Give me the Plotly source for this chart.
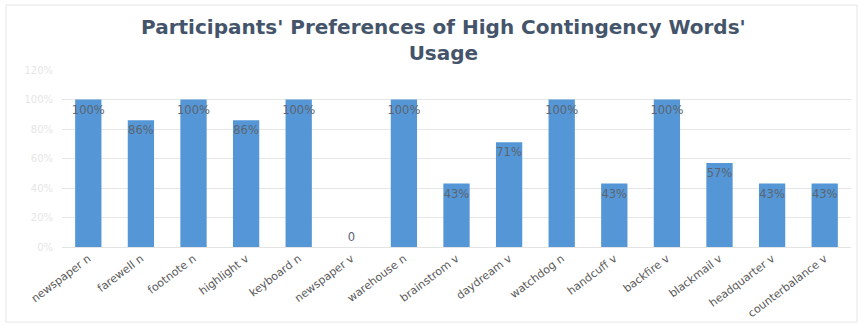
import plotly.graph_objects as go

categories = ["newspaper n", "farewell n", "footnote n", "highlight v", "keyboard n",
              "newspaper v", "warehouse n", "brainstrom v", "daydream v", "watchdog n",
              "handcuff v", "backfire v", "blackmail v", "headquarter v", "counterbalance v"]
values = [1.00, 0.86, 1.00, 0.86, 1.00, 0.0, 1.00, 0.43, 0.71, 1.00, 0.43, 1.00, 0.57, 0.43, 0.43]
labels = ["100%", "86%", "100%", "86%", "100%", "0", "100%", "43%", "71%", "100%",
          "43%", "100%", "57%", "43%", "43%"]
y_ticks = [0, 0.2, 0.4, 0.6, 0.8, 1.0, 1.2]
y_tick_text = ["0%", "20%", "40%", "60%", "80%", "100%", "120%"]

FONT = "DejaVu Sans, Verdana, sans-serif"
positions = ["outside" if v == 0 else "inside" for v in values]

fig = go.Figure(go.Bar(
    x=categories, y=values, text=labels, textposition=positions,
    insidetextanchor="end", textangle=0, constraintext="none",
    marker=dict(color="#5597d6", line=dict(width=0)),
    textfont=dict(family=FONT, size=11.5, color="#5b6470"),
    cliponaxis=False, hoverinfo="skip",
))

fig.update_layout(
    width=866, height=325,
    margin=dict(l=62, r=15, t=70, b=78, autoexpand=False),
    paper_bgcolor="white", plot_bgcolor="white",
    bargap=0.5,
    showlegend=False,
    title=dict(
        text="Participants' Preferences of High Contingency Words'<br>Usage",
        x=0.512, xanchor="center", yref="container", y=1 - 34 / 325, yanchor="middle",
        font=dict(family=FONT, size=20, color="#44546a", weight="bold"),
    ),
    font=dict(family=FONT),
    xaxis=dict(
        range=[-0.5, 14.5], automargin=False,
        tickangle=-37, tickfont=dict(size=11, color="#595959"),
        showgrid=False, showline=True, linecolor="#e4e4e4", linewidth=1, ticks="",
    ),
    yaxis=dict(
        range=[0, 1.2], tickvals=y_ticks, ticktext=y_tick_text, automargin=False,
        tickfont=dict(size=10, color="#e6e6e6"),
        showgrid=True, gridcolor="#e6e6e6", gridwidth=1, zeroline=False,
        showline=False, ticklabelstandoff=8,
    ),
    shapes=[dict(type="rect", xref="paper", yref="paper",
                 x0=-0.071, x1=1.0076, y0=-0.424, y1=1.367,
                 line=dict(color="#e6e6e6", width=1), fillcolor="rgba(0,0,0,0)", layer="below")],
)

fig.write_html("out.html")
